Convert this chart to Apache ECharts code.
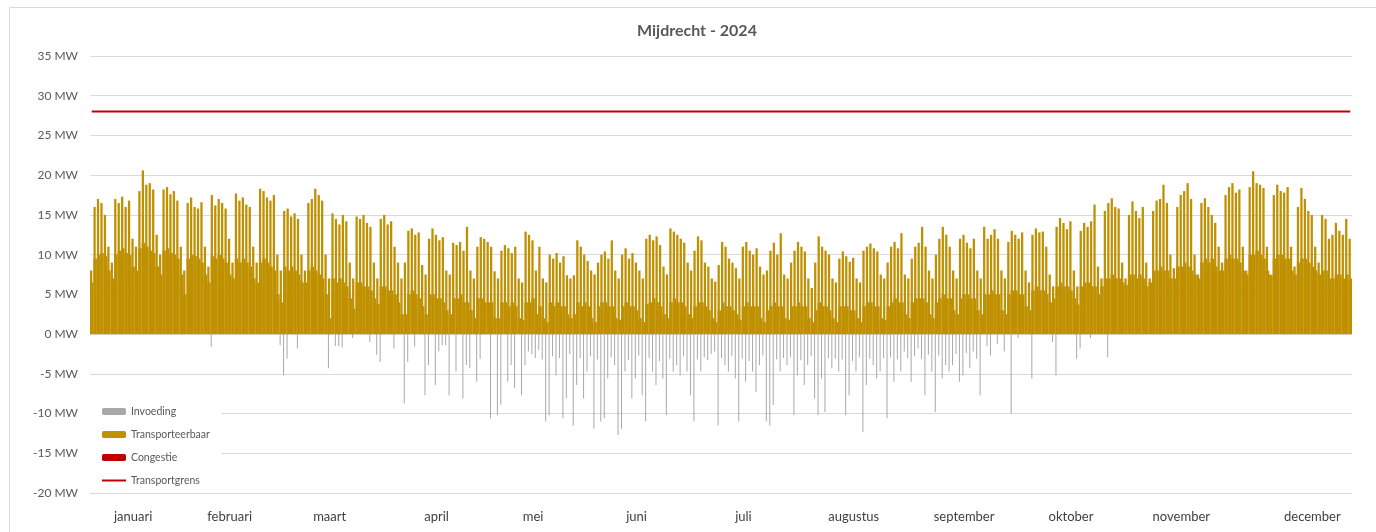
<!DOCTYPE html>
<html>
<head>
    <meta charset="utf-8">
    <script src="https://cdn.jsdelivr.net/npm/echarts@6/dist/echarts.min.js"></script>
    <style>
        body { margin: 0; background: #fff; }
    </style>
</head>
<body>
<div id="main" style="width: 1376px;height:532px;"></div>
<script type="text/javascript">
    // daily values, one row per week (week starts monday 1 jan 2024)
    // peak during the day (MW)
    var peakMW = [
        8.0, 16.0, 17.0, 16.5, 15.0, 11.0, 9.0,
        17.0, 16.5, 17.3, 16.0, 16.8, 12.0, 11.0,
        18.0, 20.6, 18.8, 19.0, 18.2, 12.5, 10.0,
        18.2, 18.5, 17.6, 18.0, 16.8, 11.0, 8.0,
        16.5, 17.2, 16.0, 15.8, 16.6, 11.0, 8.5,
        17.5, 16.2, 17.0, 16.5, 15.8, 12.0, 9.0,
        17.7, 16.8, 17.2, 16.3, 16.0, 11.0, 9.0,
        18.3, 18.0, 17.2, 16.8, 17.5, 10.0, 8.0,
        15.5, 15.8, 14.8, 15.2, 14.5, 10.0, 8.0,
        16.5, 17.0, 18.3, 17.5, 16.8, 10.0, 7.0,
        15.2, 14.5, 13.8, 15.0, 14.2, 9.0, 7.0,
        14.8, 14.5, 15.0, 14.0, 13.5, 9.0, 7.0,
        14.5, 15.0, 13.8, 14.2, 11.0, 9.0, 7.0,
        9.0, 13.0, 13.3, 12.5, 12.8, 8.7, 7.5,
        12.0, 13.3, 12.5, 11.8, 12.2, 8.0, 7.5,
        11.5, 11.2, 11.6, 10.5, 13.5, 8.0, 7.0,
        11.0, 12.2, 12.0, 11.6, 11.0, 7.9, 7.0,
        10.5, 11.2, 10.8, 10.2, 11.0, 7.0, 6.5,
        12.9, 12.5, 11.8, 8.0, 11.0, 7.0, 6.5,
        10.0, 9.5, 10.2, 9.0, 9.8, 7.4, 7.0,
        7.4, 11.8, 11.0, 10.0, 9.2, 8.0, 7.5,
        9.0, 10.0, 10.4, 9.5, 11.8, 8.0, 7.0,
        10.0, 10.8, 9.5, 10.2, 9.0, 8.0, 7.0,
        12.0, 12.5, 11.8, 12.3, 11.2, 8.5, 7.5,
        13.3, 12.9, 12.5, 12.0, 11.5, 9.0, 8.0,
        10.5, 12.3, 11.8, 9.0, 8.5, 7.0, 6.6,
        8.7, 11.6, 11.0, 9.5, 9.0, 8.3, 7.0,
        11.0, 11.6, 10.5, 10.0, 10.8, 8.5, 7.5,
        8.0, 10.5, 11.5, 10.0, 12.7, 7.5, 7.0,
        9.0, 10.5, 11.6, 11.0, 10.4, 7.0, 5.8,
        9.0, 12.3, 11.0, 10.5, 10.0, 7.0, 6.5,
        9.5, 10.4, 9.8, 9.1, 9.6, 7.0, 6.5,
        10.5, 11.0, 11.4, 10.8, 10.4, 7.5, 7.0,
        9.0, 11.0, 11.6, 10.8, 12.7, 7.5, 7.0,
        9.5, 11.0, 11.5, 13.5, 11.0, 8.0, 7.0,
        10.0, 12.0, 13.5, 12.5, 11.0, 8.0, 7.0,
        12.0, 12.5, 11.5, 10.8, 12.0, 8.0, 7.0,
        13.5, 12.0, 12.5, 13.2, 12.0, 8.0, 7.0,
        11.6, 13.0, 12.5, 12.0, 12.8, 8.0, 6.5,
        12.5, 13.3, 12.8, 12.9, 11.0, 7.5, 6.0,
        13.5, 14.6, 14.0, 13.2, 14.2, 8.0, 6.0,
        13.0, 14.0, 13.5, 14.2, 16.3, 8.5, 7.0,
        15.5, 16.5, 17.1, 16.0, 15.8, 9.0, 7.0,
        15.0, 16.7, 15.5, 14.6, 16.0, 9.0, 7.0,
        15.5, 16.8, 17.0, 18.8, 16.5, 10.0, 8.3,
        16.0, 17.5, 18.0, 19.0, 17.0, 10.0, 7.5,
        16.5, 17.1, 16.0, 15.0, 14.0, 11.0, 9.0,
        17.5, 18.5, 19.0, 17.8, 18.2, 11.0, 8.0,
        18.5, 20.5, 19.0, 18.8, 18.4, 11.0, 7.5,
        17.5, 18.8, 18.0, 17.8, 18.5, 11.0, 8.5,
        16.0, 18.4, 17.0, 15.5, 15.0, 11.0, 9.0,
        15.0, 14.5, 12.0, 12.5, 14.0, 13.0, 12.5,
        14.5, 12.0
    ];

    // lowest load during the night (MW)
    var baseMW = [
        6.5, 9.5, 10.0, 10.2, 9.8, 8.0, 7.0,
        10.0, 10.5, 10.8, 10.2, 10.0, 8.5, 8.0,
        10.8, 11.5, 11.0, 10.5, 10.2, 8.5, 7.5,
        10.5, 10.8, 10.2, 10.0, 9.5, 7.5, 5.0,
        9.5, 10.0, 9.8, 9.5, 9.0, 7.5, 6.5,
        9.8, 9.5, 10.0, 9.5, 9.0, 7.5, 7.0,
        9.5, 9.0, 9.5, 9.0, 8.5, 7.0, 6.5,
        9.0, 9.5, 9.0, 8.5, 8.0, 5.0, 4.0,
        8.5, 8.0, 8.5, 8.0, 7.5, 6.5, 6.5,
        8.0, 8.5, 8.0, 7.5, 7.0, 5.0, 2.0,
        7.0, 6.5, 7.0, 6.5, 6.0, 4.5, 3.2,
        6.5, 6.5, 6.0, 6.0, 5.5, 4.5, 3.8,
        6.0, 6.0, 5.5, 5.5, 5.0, 4.0, 2.5,
        2.5, 5.0, 5.5, 5.0, 4.5, 3.5, 2.5,
        5.0, 5.0, 4.5, 4.5, 4.0, 3.0, 2.5,
        4.5, 4.5, 5.0, 4.0, 4.0, 3.0, 2.0,
        4.5, 4.5, 4.0, 4.0, 4.0, 2.0, 2.0,
        4.0, 4.0, 3.5, 4.0, 3.5, 2.0, 1.8,
        4.0, 4.0, 4.5, 2.5, 3.5, 2.0, 1.5,
        4.0, 3.5, 4.0, 3.5, 3.5, 2.5, 2.0,
        2.5, 4.0, 3.5, 4.0, 3.5, 2.0, 1.5,
        3.5, 4.0, 4.0, 3.5, 3.5, 2.0, 1.8,
        3.5, 4.0, 3.5, 3.5, 3.0, 2.0, 1.5,
        3.8, 4.0, 4.5, 4.0, 3.5, 2.5, 2.0,
        4.0, 4.5, 4.0, 4.0, 3.5, 2.5, 2.0,
        3.5, 4.0, 4.0, 3.5, 3.0, 2.0, 1.5,
        3.0, 4.0, 3.5, 3.5, 3.0, 2.5, 1.8,
        3.5, 4.0, 3.5, 3.5, 3.5, 2.0, 1.5,
        3.0, 3.5, 4.0, 3.5, 3.5, 2.0, 1.8,
        3.5, 3.5, 4.0, 3.5, 3.5, 2.0, 1.5,
        3.0, 4.0, 3.5, 3.5, 3.0, 2.0, 1.5,
        3.5, 3.5, 3.5, 3.0, 3.0, 2.0, 1.5,
        3.5, 4.0, 4.0, 3.5, 3.5, 2.0, 1.8,
        3.5, 4.0, 4.5, 4.0, 4.0, 2.5, 2.0,
        4.0, 4.5, 4.5, 4.5, 4.0, 2.5, 2.0,
        4.0, 4.5, 5.0, 4.5, 4.5, 3.0, 2.5,
        4.5, 5.0, 5.0, 4.5, 4.5, 3.0, 2.5,
        5.0, 5.0, 5.5, 5.0, 5.0, 3.0, 2.5,
        5.0, 5.5, 5.5, 5.0, 5.0, 3.5, 3.0,
        5.5, 6.0, 5.5, 5.5, 5.0, 4.0, 4.5,
        6.0, 6.5, 6.0, 6.0, 5.5, 4.5, 3.7,
        6.0, 6.5, 6.5, 6.0, 6.0, 5.0, 6.0,
        7.0, 7.0, 7.5, 7.0, 7.0, 6.5, 6.2,
        7.5, 7.5, 7.0, 7.5, 7.0, 6.0, 6.5,
        8.0, 8.0, 8.5, 8.0, 8.0, 7.0, 7.0,
        8.5, 8.5, 9.0, 8.5, 8.0, 7.5, 7.0,
        9.0, 9.5, 9.0, 9.5, 8.5, 8.0, 8.0,
        9.5, 10.0, 9.5, 9.5, 9.0, 8.0, 7.5,
        10.0, 10.0, 10.5, 10.0, 9.5, 8.0, 7.4,
        9.5, 10.0, 10.0, 9.5, 9.5, 8.0, 7.5,
        9.0, 9.5, 9.5, 9.0, 8.5, 8.0, 7.5,
        8.0, 8.0, 7.0, 7.0, 7.5, 7.5, 7.0,
        7.5, 7.0
    ];

    // strongest feed-in (negative) during the day (MW)
    var feedMW = [
        0, 0, 0, 0, 0, 0, 0,
        0, 0, 0, 0, 0, 0, 0,
        0, 0, 0, 0, 0, 0, 0,
        0, 0, 0, 0, 0, 0, 0,
        0, 0, 0, 0, 0, 0, 0,
        -1.6, 0, 0, 0, 0, 0, 0,
        0, 0, 0, 0, 0, 0, 0,
        0, 0, 0, 0, 0, 0, -1.4,
        -5.2, -3.1, 0, 0, -1.8, 0, 0,
        0, 0, 0, 0, 0, 0, -4.3,
        0, -1.5, -1.5, -1.7, 0, 0, -0.5,
        0, 0, 0, 0, -1.0, 0, -2.6,
        -3.5, 0, 0, 0, -1.8, 0, 0,
        -8.7, -3.5, 0, -1.6, 0, 0, -7.7,
        -3.9, 0, -6.4, -2.2, -1.4, -1.4, -7.7,
        0, -4.7, 0, -8.1, -3.9, -4.3, 0,
        -6.0, -3.1, 0, 0, -10.6, 0, -10.2,
        -8.9, 0, -6.0, -3.9, -6.8, 0, -7.7,
        -3.9, -2.2, -2.5, -3.0, -2.0, -3.2, -11.0,
        -10.2, -2.8, -5.2, -3.0, -10.6, -8.1, -2.5,
        -11.5, -6.4, -3.0, -8.1, -4.7, -2.8, -11.9,
        -3.2, -11.0, -10.6, -5.6, -2.9, -3.9, -12.7,
        -11.9, -4.7, -3.3, -8.1, -5.6, -2.7, -7.7,
        -11.0, -3.0, -4.7, -6.4, -3.4, -5.6, -10.2,
        -3.1, -4.7, -3.9, -5.2, -2.8, -4.7, -7.7,
        -11.0, -3.2, -4.7, -2.9, -3.3, -2.5, -2.2,
        -11.5, -3.0, -3.9, -4.7, -2.8, -5.6, -11.0,
        -3.1, -6.0, -3.4, -4.7, -7.3, -3.9, -2.7,
        -11.0, -11.5, -8.9, -3.2, -4.7, -3.0, -3.9,
        -2.9, -10.2, -5.2, -3.3, -6.4, -3.9, -2.8,
        -8.1, -10.2, -5.6, -9.8, -3.0, -4.3, -3.1,
        -4.7, -3.2, -10.2, -7.7, -3.4, -4.7, -2.9,
        -12.3, -6.4, -3.1, -3.9, -5.6, -4.7, -3.0,
        -10.6, -2.9, -6.0, -3.2, -4.7, -2.2, -3.0,
        -6.0, -2.8, -1.8, -3.1, -7.7, -2.6, -4.7,
        -9.8, -2.7, -5.6, -3.9, -4.7, -3.9, -2.5,
        -6.0, -5.2, -2.4, -4.3, -2.2, -3.1, -7.7,
        0, -1.5, -2.7, 0, -1.2, 0, -2.2,
        0, -10.0, 0, -0.5, 0, 0, 0,
        -5.6, 0, 0, 0, 0, 0, -1.0,
        -5.2, 0, 0, 0, 0, 0, -3.1,
        -1.8, 0, 0, -0.5, 0, 0, 0,
        0, -2.9, 0, 0, 0, 0, 0,
        0, 0, 0, 0, 0, 0, 0,
        0, 0, 0, 0, 0, 0, 0,
        0, 0, 0, 0, 0, 0, 0,
        0, 0, 0, 0, 0, 0, 0,
        0, 0, 0, 0, 0, 0, 0,
        0, 0, 0, 0, 0, 0, 0,
        0, 0, 0, 0, 0, 0, 0,
        0, 0, 0, 0, 0, 0, 0,
        0, 0, 0, 0, 0, 0, 0,
        0, 0
    ];

    var limitMW = 28;

    var monthNames = ['januari', 'februari', 'maart', 'april', 'mei', 'juni',
        'juli', 'augustus', 'september', 'oktober', 'november', 'december'];
    // day under which each month name is printed
    var monthDay = [12, 40, 69, 100, 128, 158, 189, 221, 253, 284, 316, 354];

    var days = [], grens = [];
    var start = new Date(2024, 0, 1);
    for (var d = 0; d < peakMW.length; d++) {
        var dt = new Date(start.getTime() + d * 86400000);
        days.push(dt.getFullYear() + '-' + (dt.getMonth() + 1) + '-' + dt.getDate());
        grens.push(limitMW);
    }

    var font = 'Lato, "Open Sans", sans-serif';
    var myChart = echarts.init(document.getElementById('main'));

    var option = {
        animation: false,
        textStyle: { fontFamily: font },
        title: {
            text: 'Mijdrecht - 2024',
            left: 632,
            top: 18,
            textStyle: { fontSize: 16, fontWeight: 'bold', color: '#595959', fontFamily: font }
        },
        graphic: [{
            type: 'rect',
            shape: { x: 9.5, y: 7.5, width: 1400, height: 600 },
            style: { fill: 'none', stroke: '#d9d9d9', lineWidth: 1 },
            silent: true
        }],
        legend: {
            data: [
                'Invoeding',
                'Transporteerbaar',
                'Congestie',
                { name: 'Transportgrens', itemStyle: { opacity: 0 } }
            ],
            orient: 'vertical',
            left: 90,
            top: 400,
            itemWidth: 24,
            itemHeight: 7,
            itemGap: 12,
            padding: [6, 12, 6, 11],
            backgroundColor: '#fff',
            selectedMode: false,
            textStyle: { fontSize: 10.5, color: '#595959', fontFamily: font }
        },
        grid: { left: 90, right: 24, top: 56, bottom: 39 },
        xAxis: {
            type: 'category',
            data: days,
            boundaryGap: true,
            axisLine: { show: false, onZero: false },
            axisTick: { show: false },
            splitLine: { show: false },
            axisLabel: {
                interval: function (i) { return monthDay.indexOf(i) >= 0; },
                formatter: function (v, i) { return monthNames[monthDay.indexOf(i)] || ''; },
                color: '#404040',
                fontSize: 13,
                margin: 17
            }
        },
        yAxis: {
            type: 'value',
            min: -20,
            max: 35,
            interval: 5,
            axisLine: { show: false },
            axisTick: { show: false },
            splitLine: { lineStyle: { color: '#d9d9d9', width: 1 } },
            axisLabel: { formatter: '{value} MW', color: '#595959', fontSize: 12, margin: 12 }
        },
        series: [{
            name: 'Invoeding',
            type: 'bar',
            barWidth: 1,
            barGap: '-100%',
            itemStyle: { color: '#a8a8a8' },
            data: feedMW
        }, {
            name: 'Transporteerbaar',
            type: 'bar',
            barWidth: '66%',
            barGap: '-100%',
            itemStyle: { color: '#bf9000' },
            data: peakMW
        }, {
            name: 'Congestie',
            type: 'bar',
            barWidth: '100%',
            barGap: '-100%',
            itemStyle: { color: '#c00000' },
            data: []
        }, {
            // night level, drawn full width under the daily peaks
            name: 'Transporteerbaar',
            type: 'bar',
            barWidth: '100%',
            barGap: '-100%',
            itemStyle: { color: '#bf9000' },
            data: baseMW
        }, {
            name: 'Transportgrens',
            type: 'line',
            symbol: 'none',
            itemStyle: { color: '#c00000' },
            lineStyle: { color: '#c00000', width: 2 },
            data: grens
        }]
    };

    myChart.setOption(option);
</script>
</body>
</html>
